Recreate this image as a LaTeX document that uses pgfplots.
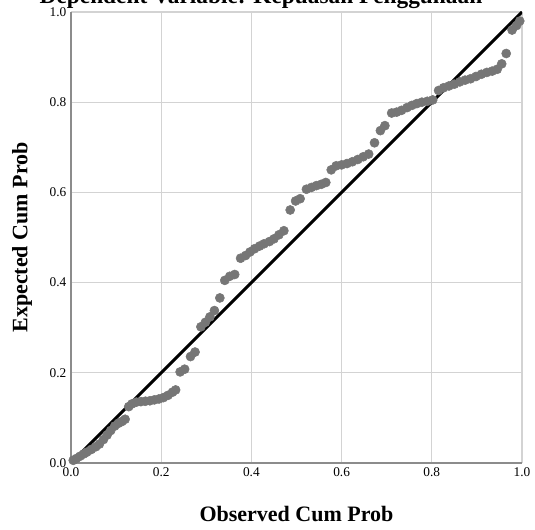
\documentclass[border=0pt]{standalone}
\usepackage{fontspec}
\setmainfont{Liberation Serif}
\usepackage{pgfplots}
\pgfplotsset{compat=1.18}
\definecolor{dotgray}{HTML}{767676}
\definecolor{gridgray}{HTML}{D3D3D3}
\definecolor{framegray}{HTML}{8C8C8C}

\pgfplotstableread{
x y
0.005 0.006
0.012 0.010
0.020 0.015
0.028 0.020
0.035 0.024
0.045 0.030
0.055 0.036
0.063 0.042
0.072 0.052
0.080 0.062
0.088 0.072
0.097 0.082
0.105 0.088
0.113 0.092
0.120 0.097
0.128 0.125
0.135 0.131
0.145 0.135
0.155 0.136
0.165 0.137
0.175 0.138
0.185 0.140
0.195 0.142
0.205 0.145
0.215 0.150
0.225 0.157
0.232 0.162
0.242 0.202
0.252 0.208
0.265 0.236
0.275 0.246
0.288 0.302
0.298 0.312
0.308 0.324
0.318 0.338
0.330 0.366
0.341 0.405
0.352 0.414
0.363 0.418
0.376 0.454
0.387 0.460
0.397 0.468
0.407 0.475
0.418 0.481
0.428 0.486
0.440 0.491
0.450 0.497
0.461 0.506
0.472 0.515
0.486 0.561
0.498 0.581
0.508 0.586
0.522 0.607
0.533 0.611
0.544 0.615
0.555 0.618
0.565 0.622
0.577 0.650
0.588 0.659
0.600 0.661
0.612 0.664
0.624 0.668
0.636 0.673
0.648 0.679
0.660 0.685
0.673 0.710
0.686 0.737
0.696 0.748
0.711 0.776
0.722 0.778
0.733 0.782
0.745 0.788
0.756 0.793
0.767 0.797
0.778 0.800
0.790 0.802
0.802 0.805
0.815 0.826
0.826 0.832
0.838 0.836
0.850 0.840
0.862 0.845
0.874 0.849
0.886 0.852
0.898 0.857
0.910 0.862
0.922 0.866
0.934 0.869
0.945 0.873
0.955 0.885
0.965 0.908
0.978 0.960
0.988 0.970
0.995 0.980
}\ppdata

\begin{document}
\begin{tikzpicture}
\begin{axis}[
  name=ax,
  scale only axis,
  width=338.25pt,height=338.25pt,
  xmin=0,xmax=1,ymin=0,ymax=1,
  xtick={0,0.2,0.4,0.6,0.8,1},ytick={0,0.2,0.4,0.6,0.8,1},
  xticklabels={0.0,0.2,0.4,0.6,0.8,1.0},
  yticklabels={0.0,0.2,0.4,0.6,0.8,1.0},
  grid=major,grid style={gridgray,line width=0.8pt},
  major tick length=0pt,
  axis x line*=bottom,axis y line*=left,
  axis line style={framegray,line width=0.8pt,-},
  tick label style={font=\fontsize{10pt}{12pt}\selectfont},
  xlabel={Observed Cum Prob},ylabel={Expected Cum Prob},
  label style={font=\bfseries\fontsize{16.5pt}{18pt}\selectfont},
  xlabel style={at={(axis description cs:0.5,-0.1131)},anchor=center},
  ylabel style={at={(axis description cs:-0.1086,0.5)},anchor=center},
]
\addplot[only marks,mark=*,mark size=3.4pt,dotgray] table {\ppdata};
\addplot[black,line width=2.2pt] coordinates {(0,0)(1,1)};
\end{axis}
\pgfresetboundingbox
\path[use as bounding box] (ax.south west) ++(-53.25pt,-49.5pt) rectangle ++(401.25pt,396.75pt);
% title sits mostly above the page, as in the cropped reference
\node[anchor=base,font=\bfseries\fontsize{17.5pt}{20pt}\selectfont]
  at ([shift={(142.5pt,344.25pt)}]ax.south west) {Dependent Variable: Kepuasan Penggunaan};
\end{tikzpicture}
\end{document}
